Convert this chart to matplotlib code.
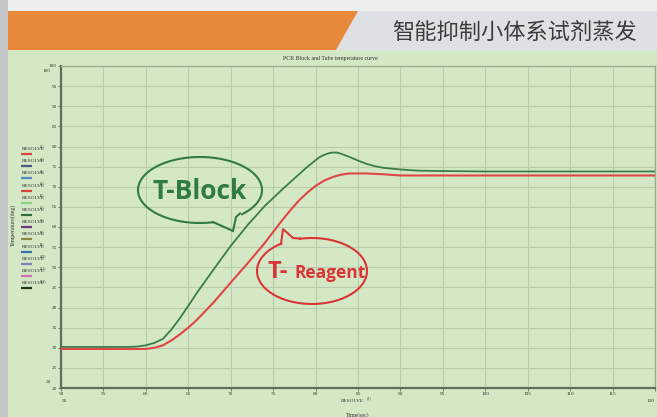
import numpy as np
import matplotlib
matplotlib.use("Agg")
import matplotlib.pyplot as plt
from matplotlib.patches import Polygon, Rectangle

# ---------------- data ----------------
t_block = [50, 58, 59, 60, 61, 62, 63, 64, 65, 66, 68, 70, 72, 74, 76, 77, 78, 79, 80, 80.5, 81, 81.5, 82, 82.5,
           83, 84, 85, 86, 87, 88, 90, 92, 95, 100, 120]
temp_block = [30.2, 30.2, 30.3, 30.6, 31.2, 32.2, 34.5, 37.3, 40.4, 43.6, 49.5, 55.3, 60.5, 65.2, 69.2, 71.1,
              73.0, 74.9, 76.6, 77.4, 77.9, 78.3, 78.5, 78.5, 78.2, 77.4, 76.5, 75.7, 75.1, 74.7, 74.3, 74.0,
              73.9, 73.8, 73.8]

t_reagent = [50, 60, 61, 62, 63, 64, 65, 66, 68, 70, 72, 74, 76, 77, 78, 79, 80, 81, 82, 83, 84, 86, 88, 90, 95, 120]
temp_reagent = [29.7, 29.7, 30.0, 30.6, 31.8, 33.3, 35.0, 36.9, 41.3, 46.2, 51.0, 56.0, 61.5, 64.1, 66.5,
                68.5, 70.2, 71.5, 72.4, 73.0, 73.3, 73.3, 73.1, 72.8, 72.8, 72.8]

x_ticks = [50, 55, 60, 65, 70, 75, 80, 85, 90, 95, 100, 105, 110, 115, 120]
y_ticks = [20, 25, 30, 35, 40, 45, 50, 55, 60, 65, 70, 75, 80, 85, 90, 95, 100]

legend_names = ["RESOLVE"] * 12
legend_sup = ["(1)", "(2)", "(3)", "(4)", "(5)", "(6)", "(7)", "(8)", "(9)", "(10)", "(11)", "(12)"]
legend_colors = ["#d9453a", "#4a5a80", "#5a8ac0", "#d9453a", "#8ed080", "#2e6e3e",
                 "#6a3a7a", "#8a8a40", "#3a70b0", "#8080c0", "#d070b0", "#1a3a1a"]

header_title = "智能抑制小体系试剂蒸发"
chart_title = "PCR Block and Tube temperature curve"

# ---------------- figure ----------------
W, H = 657, 417
fig = plt.figure(figsize=(W / 100, H / 100), dpi=100)
fig.patch.set_facecolor("#eceef0")

BG = "#d5e8c6"
GREEN = "#3a7d4a"
RED = "#e04545"

# background in pixel coords
bg = fig.add_axes([0, 0, 1, 1], zorder=0)
bg.set_xlim(0, W)
bg.set_ylim(H, 0)
bg.axis("off")
bg.add_patch(Rectangle((0, 0), W, H, color="#eceef0", lw=0))
bg.add_patch(Rectangle((8, 50), W - 8, H - 50, color=BG, lw=0))
bg.add_patch(Rectangle((0, 0), 8, H, color="#c4c6c8", lw=0))
bg.add_patch(Rectangle((8, 11), W - 8, 39, color="#dde1e6", lw=0))
bg.add_patch(Polygon([(8, 11), (358, 11), (336, 50), (8, 50)], closed=True, color="#e8883a", lw=0))
bg.text(637, 32, header_title, ha="right", va="center", fontsize=16,
        family=["Noto Sans CJK SC", "DejaVu Sans"], color="#3c3c3c")

# ---------------- main axes ----------------
x0, x1, ytop, ybot = 61, 655, 66, 388
ax = fig.add_axes([x0 / W, 1 - ybot / H, (x1 - x0) / W, (ybot - ytop) / H], zorder=1)
ax.set_facecolor("none")
ax.set_xlim(50, 120)
ax.set_ylim(20, 100)
ax.set_xticks(x_ticks)
ax.set_yticks(y_ticks)
ax.set_xticklabels([str(v) for v in x_ticks[:-1]] + [""])
ax.grid(True, color="#b9ccb1", lw=0.8)
for s in ["left", "bottom"]:
    ax.spines[s].set_color("#5f6f5a")
    ax.spines[s].set_linewidth(1.6)
for s in ["top", "right"]:
    ax.spines[s].set_color("#9aab94")
    ax.spines[s].set_linewidth(1.0)
ax.tick_params(axis="both", length=2, width=0.6, color="#5f6f5a", labelsize=3.8,
               labelcolor="#333333", pad=1)
for lab in ax.get_xticklabels() + ax.get_yticklabels():
    lab.set_family("Liberation Serif")

ax.plot(t_block, temp_block, color=GREEN, lw=1.3, zorder=3, solid_joinstyle="round")
ax.plot(t_reagent, temp_reagent, color=RED, lw=1.5, zorder=3, solid_joinstyle="round")

# ---------------- overlay (annotations) ----------------
ov = fig.add_axes([0, 0, 1, 1], zorder=2)
ov.set_xlim(0, W)
ov.set_ylim(H, 0)
ov.axis("off")

serif = "Liberation Serif"
ov.text(330, 58, chart_title, ha="center", va="center", fontsize=4.2, family=serif, color="#333333")
ov.text(47, 71, "100", ha="center", va="center", fontsize=3.8, family=serif, color="#333333")
ov.text(48, 382, "20", ha="center", va="center", fontsize=3.8, family=serif, color="#333333")
ov.text(64, 401, "50", ha="center", va="center", fontsize=3.8, family=serif, color="#333333")
ov.text(651, 401, "120", ha="center", va="center", fontsize=3.8, family=serif, color="#333333")
ov.text(352, 401, "RESOLVE", ha="center", va="center", fontsize=3.8, family=serif, color="#333333")
ov.text(367, 398, "(2)", ha="left", va="center", fontsize=2.8, family=serif, color="#333333")
ov.text(358, 415, "Time(sec)", ha="center", va="center", fontsize=4.2, family=serif, color="#333333")
ov.text(13, 225, "Temperature(deg)", ha="center", va="center", rotation=90, fontsize=4.2,
        family=serif, color="#333333")

for i, (nm, sp, c) in enumerate(zip(legend_names, legend_sup, legend_colors)):
    yy = 149 + i * 12.2
    ov.text(22, yy, nm, ha="left", va="center", fontsize=3.8, family=serif, color="#333333")
    ov.text(40, yy - 2.5, sp, ha="left", va="center", fontsize=2.8, family=serif, color="#333333")
    ov.plot([21, 32], [yy + 5, yy + 5], color=c, lw=1.6, solid_capstyle="butt")

# speech bubbles
def bubble(cx, cy, rx, ry, gap_a, gap_b, tail, color):
    th = np.radians(np.linspace(gap_a, gap_b, 200))
    ov.plot(cx + rx * np.cos(th), cy + ry * np.sin(th), color=color, lw=1.5)
    tx, ty = zip(*tail)
    ov.plot(tx, ty, color=color, lw=1.5, solid_joinstyle="miter")

bubble(200, 190, 62, 33, 78, 47 + 360,
       [(213, 222), (233, 231), (236, 217), (240, 213.5)], "#2f7a45")
ov.text(200, 191, "T-Block", ha="center", va="center", fontsize=19, fontweight="bold",
        family="Open Sans", color="#2f7a45")

bubble(312, 271, 55, 33, 257, 236 + 360,
       [(300, 238.5), (293, 238), (283, 229), (281, 244)], "#d93535")
ov.text(267, 278, "T-", ha="left", va="baseline", fontsize=17, fontweight="bold",
        family="Open Sans", color="#d93535")
ov.text(294, 278, "Reagent", ha="left", va="baseline", fontsize=12.5, fontweight="bold",
        family="Open Sans", color="#d93535")

fig.savefig("out.png", dpi=100)
